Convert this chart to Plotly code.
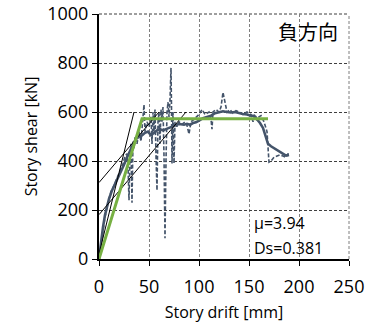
import plotly.graph_objects as go

# Raw story shear vs. story drift response (dashed)
drift_raw = [0, 3, 6, 9, 12, 15, 18, 21, 24, 26, 28, 29, 30, 31, 32, 33, 34, 35, 36, 38,
             40, 42, 44, 45, 46, 48, 50, 52, 53, 54, 55, 56, 57, 58, 59, 60, 61, 62, 63, 64,
             65, 66, 67, 68, 69, 70, 71, 72, 72.5, 73, 74, 75, 76, 78, 80, 83, 86, 88, 90, 92,
             95, 100, 103, 106, 110, 112, 113, 114, 117, 120, 122, 124, 126, 128, 131, 134,
             137, 140, 144, 148, 152, 154, 156, 158, 160, 162, 165, 168, 170, 172, 175, 178,
             181, 184, 187, 189, 190]
shear_raw = [0, 90, 170, 230, 275, 300, 330, 360, 390, 420, 430, 380, 240, 420, 470, 230, 480, 450, 500, 470,
             520, 480, 560, 630, 520, 560, 540, 580, 470, 600, 520, 610, 420, 280, 560, 600, 470, 610, 560, 620,
             420, 85, 400, 600, 640, 580, 650, 780, 620, 390, 600, 390, 560, 540, 560, 550, 560, 545, 510, 560,
             570, 590, 610, 590, 600, 570, 530, 600, 610, 600, 620, 680, 640, 600, 610, 595,
             605, 600, 590, 600, 590, 560, 590, 570, 580, 585, 560, 520, 395, 400, 415, 420,
             425, 420, 415, 430, 420]

# Smoothed response (solid)
drift_env = [0, 2, 4, 6, 8, 10, 13, 16, 19, 22, 25, 28, 31, 34, 37, 40, 43, 46, 49, 52,
             55, 58, 61, 64, 67, 70, 73, 76, 79, 82, 85, 88, 91, 94, 97, 100, 104, 108, 112,
             116, 120, 124, 128, 132, 136, 140, 144, 148, 152, 155, 158, 161, 164, 167, 169,
             172, 176, 180, 184, 187, 190]
shear_env = [0, 70, 130, 180, 215, 245, 280, 305, 330, 355, 385, 415, 440, 465, 490, 500, 505, 515, 520, 505,
             515, 525, 530, 525, 530, 535, 540, 545, 550, 550, 548, 552, 548, 555, 558, 565, 575, 580, 585,
             595, 600, 603, 600, 598, 600, 595, 592, 590, 585, 585, 570, 555, 535, 500, 470,
             460, 450, 440, 430, 422, 425]

# Stiffness reference lines (thin black)
ref_lines = [
    ([0, 35], [20, 600]),
    ([0, 60], [312, 600]),
    ([0, 87], [181, 600]),
]

# Bilinear idealisation (green)
bilin_drift = [0, 43, 169]
bilin_shear = [0, 572, 572]

mu_label = "μ=3.94"
ds_label = "Ds=0.381"
direction_label = "負方向"

x_ticks = [0, 50, 100, 150, 200, 250]
y_ticks = [0, 200, 400, 600, 800, 1000]

slate = "#44546A"
green = "#77B043"
font_family = "Open Sans, Noto Sans, sans-serif"
grid_dash = "3px,2px"

fig = go.Figure()
fig.add_trace(go.Scatter(x=drift_raw, y=shear_raw, mode="lines",
                         line=dict(color=slate, width=1.6, dash="4px,2px"), hoverinfo="skip"))
fig.add_trace(go.Scatter(x=drift_env, y=shear_env, mode="lines",
                         line=dict(color=slate, width=2.6), hoverinfo="skip"))
for xs, ys in ref_lines:
    fig.add_trace(go.Scatter(x=xs, y=ys, mode="lines",
                             line=dict(color="black", width=1), hoverinfo="skip"))
fig.add_trace(go.Scatter(x=bilin_drift, y=bilin_shear, mode="lines",
                         line=dict(color=green, width=3), hoverinfo="skip"))

# dashed frame on the top and right edges, continuing the grid
fig.add_shape(type="line", xref="paper", yref="paper", x0=0, x1=1, y0=1, y1=1,
              line=dict(color="#3F3F3F", width=1, dash=grid_dash), layer="below")
fig.add_shape(type="line", xref="paper", yref="paper", x0=1, x1=1, y0=0, y1=1,
              line=dict(color="#7F7F7F", width=1, dash=grid_dash), layer="below")

fig.add_annotation(x=153, y=146, xref="x", yref="y", text=mu_label, showarrow=False,
                   xanchor="left", yanchor="middle", font=dict(size=16, color="black", family=font_family))
fig.add_annotation(x=153, y=44, xref="x", yref="y", text=ds_label, showarrow=False,
                   xanchor="left", yanchor="middle", font=dict(size=16, color="black", family=font_family))
fig.add_annotation(x=241, y=929, xref="x", yref="y", text=direction_label, showarrow=False,
                   xanchor="right", yanchor="middle",
                   font=dict(size=20, color="black", family="Noto Sans CJK JP"))

fig.update_layout(
    width=371, height=329,
    margin=dict(l=99, r=22, t=14, b=70, autoexpand=False),
    paper_bgcolor="white", plot_bgcolor="white",
    showlegend=False,
    font=dict(family=font_family, color="black"),
)
fig.update_xaxes(
    range=[0, 250], tickvals=x_ticks, ticktext=[str(v) for v in x_ticks],
    showgrid=True, gridcolor="#7F7F7F", griddash=grid_dash, gridwidth=1,
    showline=True, linecolor="black", linewidth=2,
    ticks="outside", ticklen=5, tickcolor="black", ticklabelstandoff=5,
    tickfont=dict(size=18), zeroline=False, automargin=False,
    title=dict(text="Story drift [mm]", font=dict(size=16), standoff=10),
)
fig.update_yaxes(
    range=[0, 1000], tickvals=y_ticks, ticktext=[str(v) for v in y_ticks],
    showgrid=True, gridcolor="#3F3F3F", griddash=grid_dash, gridwidth=1,
    showline=True, linecolor="black", linewidth=2,
    ticks="outside", ticklen=5, tickcolor="black",
    tickfont=dict(size=18), zeroline=False, automargin=False,
    title=dict(text="Story shear [kN]", font=dict(size=16), standoff=6),
)

fig.write_html("out.html")
